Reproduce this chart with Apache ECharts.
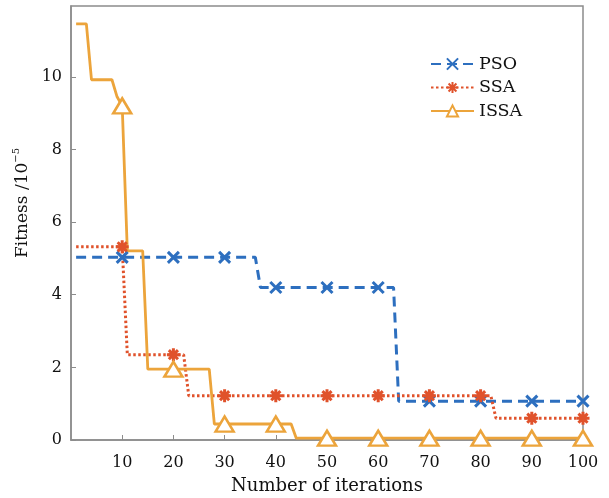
<!DOCTYPE html>
<html>
<head>
<meta charset="utf-8">
<script src="https://cdn.jsdelivr.net/npm/echarts@6/dist/echarts.min.js"></script>
<style>
  html, body { margin: 0; padding: 0; background: #fff; }
  #chart { width: 609px; height: 498px; }
</style>
</head>
<body>
<div id="chart"></div>
<script>
// iterations that carry a marker
var markIters = [10, 20, 30, 40, 50, 60, 70, 80, 90, 100];

// PSO: corner points of the curve + values at the marked iterations
var psoX = [1, 36, 37, 63, 64];
var psoY = [5.03, 5.03, 4.2, 4.2, 1.07];
var psoMark = [5.03, 5.03, 5.03, 4.2, 4.2, 4.2, 1.07, 1.07, 1.07, 1.07];

// SSA
var ssaX = [1, 11, 22, 23, 82, 83];
var ssaY = [5.32, 2.35, 2.35, 1.22, 1.22, 0.6];
var ssaMark = [5.32, 2.35, 1.22, 1.22, 1.22, 1.22, 1.22, 1.22, 0.6, 0.6];

// ISSA
var issaX = [1, 3, 4, 8, 9, 11, 14, 15, 27, 28, 43, 44];
var issaY = [11.46, 11.46, 9.92, 9.92, 9.45, 5.21, 5.21, 1.95, 1.95, 0.44, 0.44, 0.05];
var issaMark = [9.2, 1.95, 0.44, 0.44, 0.05, 0.05, 0.05, 0.05, 0.05, 0.05];

var xTicks = [10, 20, 30, 40, 50, 60, 70, 80, 90, 100];

var FONT = "DejaVu Serif";
var TXT = "#111";
var C_PSO = "#2d6fbf";
var C_SSA = "#e0522b";
var C_ISSA = "#eca43b";

// x mark and asterisk drawn as stroked paths
var crossPath = "path://M0 0L10 10M10 0L0 10";
var starPath = "path://M5 0L5 10M0 5L10 5M1.5 1.5L8.5 8.5M8.5 1.5L1.5 8.5";

function build(xs, ys, marks) {
  var pts = xs.map(function (x, i) {
    return { value: [x, ys[i]], symbol: "none" };
  });
  markIters.forEach(function (x, i) {
    pts.push({ value: [x, marks[i]] });
  });
  pts.sort(function (a, b) { return a.value[0] - b.value[0]; });
  return pts;
}

var chart = echarts.init(document.getElementById("chart"));
chart.setOption({
  animation: false,
  grid: {
    left: 71,
    right: 26,
    top: 6,
    bottom: 58,
    outerBoundsMode: "none",
    show: true,
    borderColor: "#8c8c8c",
    borderWidth: 1.5
  },
  legend: {
    orient: "vertical",
    left: 425,
    top: 50,
    itemWidth: 43,
    itemHeight: 14,
    itemGap: 5.5,
    textStyle: { fontFamily: FONT, fontSize: 17.5, color: TXT },
    data: ["PSO", "SSA", "ISSA"]
  },
  xAxis: {
    type: "value",
    min: 0,
    max: 100,
    interval: 10,
    name: "Number of iterations",
    nameLocation: "middle",
    nameGap: 37,
    nameTextStyle: { fontFamily: FONT, fontSize: 18, color: TXT },
    axisLine: { lineStyle: { color: "#8c8c8c", width: 1.5 } },
    axisTick: { inside: true, length: 5, lineStyle: { color: "#8c8c8c" } },
    axisLabel: {
      showMinLabel: false,
      margin: 15,
      fontFamily: FONT,
      fontSize: 16,
      color: TXT,
      formatter: function (v) { return xTicks.indexOf(v) >= 0 ? String(v) : ""; }
    },
    splitLine: { show: false }
  },
  yAxis: {
    type: "value",
    min: 0,
    max: 11.95,
    interval: 2,
    name: "{a|Fitness /10}{b|−5}",
    nameLocation: "middle",
    nameGap: 30,
    nameTextStyle: {
      fontFamily: FONT,
      fontSize: 17,
      color: TXT,
      padding: [0, 0, 0, 40],
      rich: {
        a: { fontFamily: FONT, fontSize: 17, color: TXT, lineHeight: 22 },
        b: { fontFamily: FONT, fontSize: 10, color: TXT, verticalAlign: "top", lineHeight: 22 }
      }
    },
    axisLine: { lineStyle: { color: "#8c8c8c", width: 1.5 } },
    axisTick: { inside: true, length: 5, lineStyle: { color: "#8c8c8c" } },
    axisLabel: {
      showMaxLabel: false,
      margin: 9,
      fontFamily: FONT,
      fontSize: 16,
      color: TXT
    },
    splitLine: { show: false }
  },
  series: [
    {
      name: "PSO",
      type: "line",
      data: build(psoX, psoY, psoMark),
      symbol: crossPath,
      symbolSize: 11,
      showAllSymbol: true,
      lineStyle: { color: C_PSO, width: 3, type: [10, 6] },
      itemStyle: { color: "none", borderColor: C_PSO, borderWidth: 3 },
      emphasis: { disabled: true }
    },
    {
      name: "SSA",
      type: "line",
      data: build(ssaX, ssaY, ssaMark),
      symbol: starPath,
      symbolSize: 13,
      showAllSymbol: true,
      lineStyle: { color: C_SSA, width: 3, type: [2.5, 2.5] },
      itemStyle: { color: "none", borderColor: C_SSA, borderWidth: 3 },
      emphasis: { disabled: true }
    },
    {
      name: "ISSA",
      type: "line",
      data: build(issaX, issaY, issaMark),
      symbol: "triangle",
      symbolSize: [18, 15],
      showAllSymbol: true,
      lineStyle: { color: C_ISSA, width: 2.8 },
      itemStyle: { color: "#fff", borderColor: C_ISSA, borderWidth: 2.5 },
      emphasis: { disabled: true }
    }
  ]
});
</script>
</body>
</html>
